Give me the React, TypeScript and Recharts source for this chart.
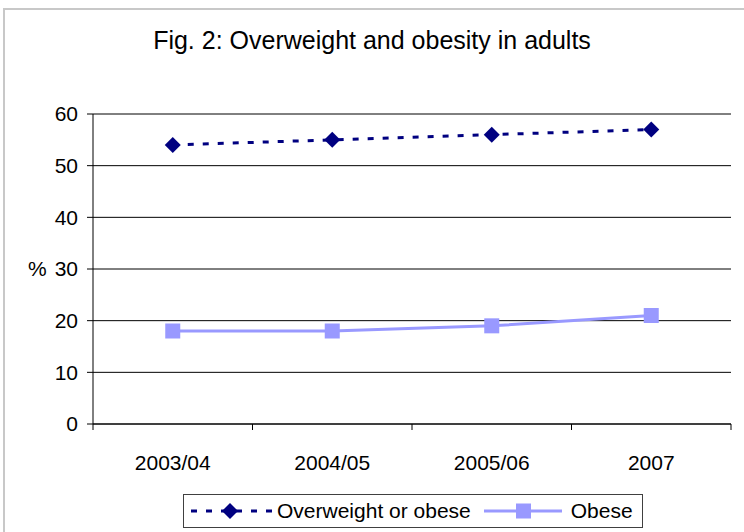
import React from "react";
import {
  LineChart,
  Line,
  XAxis,
  YAxis,
  CartesianGrid,
} from "recharts";

// Fig. 2 — adult overweight / obesity, percent of adults by survey year.
const YEARS = ["2003/04", "2004/05", "2005/06", "2007"];
const OVERWEIGHT = [54, 55, 56, 57];
const OBESE = [18, 18, 19, 21];
const Y_TICKS = [0, 10, 20, 30, 40, 50, 60];
const SERIES_NAMES = ["Overweight or obese", "Obese"];

const DATA = YEARS.map((year, i) => ({
  year,
  overweight: OVERWEIGHT[i],
  obese: OBESE[i],
}));

const W = 744;
const H = 532;
const MARGIN = { top: 114, right: 13, bottom: 78, left: 0 };
const Y_AXIS_W = 93;
const PLOT_W = W - MARGIN.left - MARGIN.right - Y_AXIS_W;
const HALF_BAND = PLOT_W / YEARS.length / 2;

const NAVY = "#000080";
const LILAC = "#9999ff";
const FONT = "'Liberation Sans', Arial, sans-serif";
const FS = 21;

function Diamond(props: any) {
  const { cx, cy } = props;
  if (cx == null || cy == null) return null;
  const r = 8;
  return (
    <path
      d={`M${cx},${cy - r}L${cx + r},${cy}L${cx},${cy + r}L${cx - r},${cy}Z`}
      fill={NAVY}
    />
  );
}

function Square(props: any) {
  const { cx, cy } = props;
  if (cx == null || cy == null) return null;
  const r = 7.5;
  return <rect x={cx - r} y={cy - r} width={r * 2} height={r * 2} fill={LILAC} />;
}

// ticks sit on the category boundaries, labels in the middle
function YearTick(props: any) {
  const { x, y, payload, index } = props;
  return (
    <g>
      <line x1={x - HALF_BAND} x2={x - HALF_BAND} y1={y} y2={y + 6} stroke="#000" />
      {index === YEARS.length - 1 ? (
        <line x1={x + HALF_BAND} x2={x + HALF_BAND} y1={y} y2={y + 6} stroke="#000" />
      ) : null}
      <text
        x={x}
        y={y + 46}
        textAnchor="middle"
        fontSize={FS}
        fontFamily={FONT}
        fill="#000"
      >
        {payload.value}
      </text>
    </g>
  );
}

function LegendBox() {
  return (
    <div
      style={{
        position: "absolute",
        left: 183,
        top: 494,
        width: 458,
        height: 32,
        border: "1px solid #404040",
        display: "flex",
        alignItems: "center",
        fontFamily: FONT,
        fontSize: FS,
        color: "#000",
        whiteSpace: "nowrap",
      }}
    >
      <svg width={82} height={20} style={{ marginLeft: 6, flexShrink: 0 }}>
        <line x1={1} x2={82} y1={10} y2={10} stroke={NAVY} strokeWidth={3} strokeDasharray="6 9" />
        <path d="M40,2L48,10L40,18L32,10Z" fill={NAVY} />
      </svg>
      <span style={{ marginLeft: 5 }}>{SERIES_NAMES[0]}</span>
      <svg width={78} height={20} style={{ marginLeft: 13, flexShrink: 0 }}>
        <line x1={0} x2={78} y1={10} y2={10} stroke={LILAC} strokeWidth={3} />
        <rect x={32} y={2.5} width={15} height={15} fill={LILAC} />
      </svg>
      <span style={{ marginLeft: 9 }}>{SERIES_NAMES[1]}</span>
    </div>
  );
}

export default function App() {
  return (
    <div style={{ position: "absolute", left: 0, top: 0, width: W, height: H, background: "#fff", overflow: "hidden" }}>
      <style>{"body{margin:0}"}</style>
      <div
        style={{
          position: "absolute",
          left: 3,
          top: 8,
          width: W,
          height: H,
          borderTop: "2px solid #c8c8c8",
          borderLeft: "2px solid #c8c8c8",
        }}
      />
      <div
        style={{
          position: "absolute",
          left: 0,
          top: 26,
          width: W,
          textAlign: "center",
          fontFamily: FONT,
          fontSize: 25,
          color: "#000",
        }}
      >
        Fig. 2: Overweight and obesity in adults
      </div>
      <div style={{ position: "absolute", left: 0, top: 0 }}>
        <LineChart width={W} height={H} data={DATA} margin={MARGIN}>
          <CartesianGrid vertical={false} stroke="#000" horizontalValues={Y_TICKS} />
          <XAxis
            dataKey="year"
            padding={{ left: HALF_BAND, right: HALF_BAND }}
            stroke="#000"
            tickSize={0}
            tickMargin={0}
            tick={<YearTick />}
            interval={0}
            height={30}
          />
          <XAxis
            xAxisId="top"
            orientation="top"
            dataKey="year"
            height={0}
            tick={false}
            stroke="#808080"
            strokeWidth={2}
          />
          <YAxis
            domain={[0, 60]}
            ticks={Y_TICKS}
            width={Y_AXIS_W}
            stroke="#000"
            tickSize={6}
            tickMargin={9}
            tick={{ fill: "#000", fontSize: FS, fontFamily: FONT }}
            label={{
              value: "%",
              position: "insideLeft",
              offset: 28,
              fill: "#000",
              fontSize: FS,
              fontFamily: FONT,
            }}
          />
          <YAxis
            yAxisId="right"
            orientation="right"
            width={0}
            tick={false}
            stroke="#808080"
            strokeWidth={2}
          />
          <Line
            dataKey="overweight"
            stroke={NAVY}
            strokeWidth={3}
            strokeDasharray="6 9"
            dot={<Diamond />}
            isAnimationActive={false}
          />
          <Line
            dataKey="obese"
            stroke={LILAC}
            strokeWidth={3}
            dot={<Square />}
            isAnimationActive={false}
          />
        </LineChart>
      </div>
      <LegendBox />
    </div>
  );
}
